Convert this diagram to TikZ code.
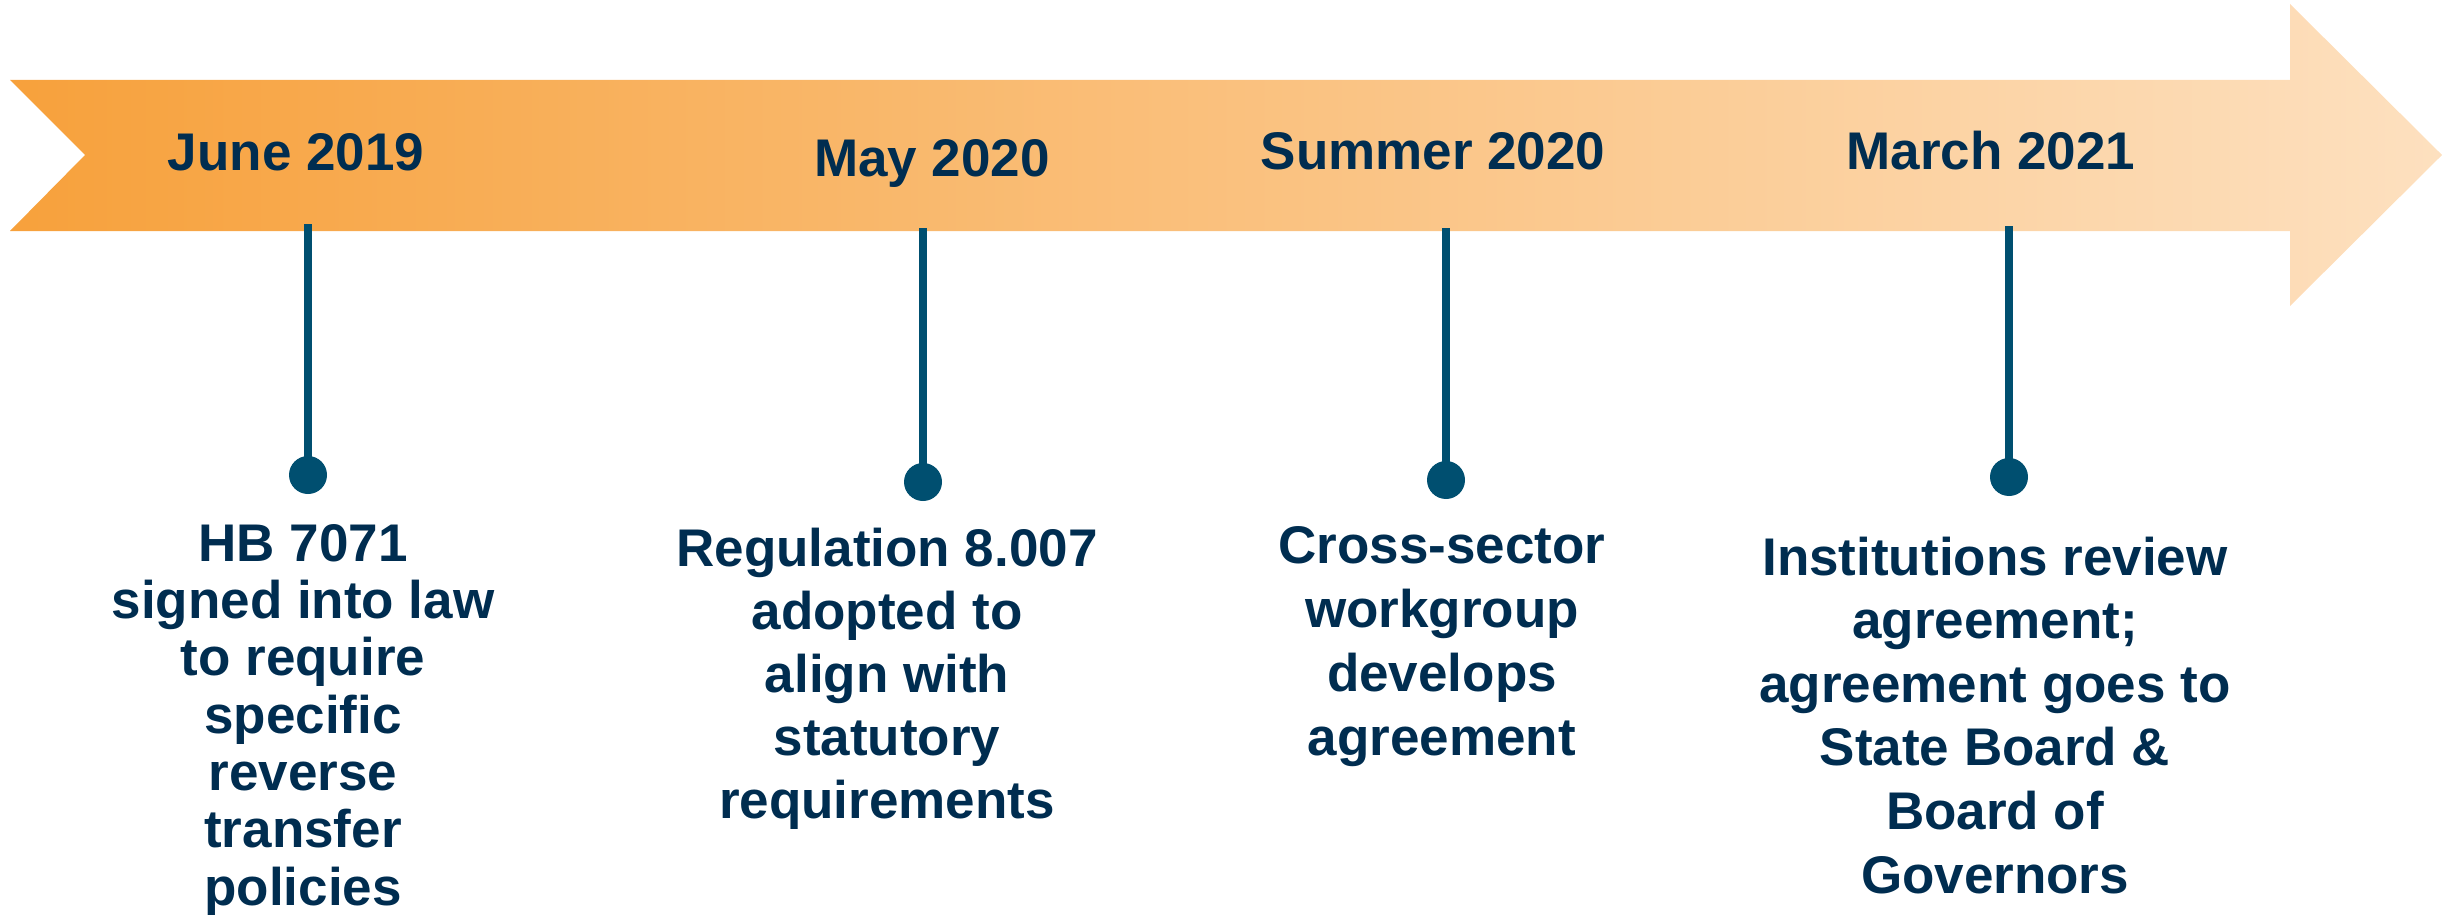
\documentclass[tikz,border=0pt]{standalone}
\usepackage{fontspec}
\setmainfont{Liberation Sans}
\definecolor{navytext}{RGB}{0,45,80}
\definecolor{stemblue}{RGB}{0,79,112}
\definecolor{arrowleft}{RGB}{247,161,60}
\definecolor{arrowright}{RGB}{253,224,191}
\tikzset{
  datelbl/.style={anchor=base, inner sep=0pt, text=navytext, font=\bfseries\fontsize{53}{57}\selectfont},
  bodylbl/.style={anchor=base, inner sep=0pt, text=navytext, align=center},
  stemdot/.style={circle, fill=stemblue, inner sep=0pt, minimum size=38pt},
  stemline/.style={draw=stemblue, line width=8.3pt}
}
\begin{document}
\begin{tikzpicture}[x=1pt,y=-1pt]
\useasboundingbox (0,0) rectangle (2453,915);
% timeline arrow
\shade[left color=arrowleft, right color=arrowright]
  (10,80) -- (2290,80) -- (2290,4) -- (2442,155) -- (2290,306) -- (2290,231) -- (10,231) -- (85,155) -- cycle;
% dates
\node[datelbl] (d1) at (296,171) {June 2019};
\node[datelbl] (d2) at (932,177) {May 2020};
\node[datelbl] (d3) at (1433,170) {Summer 2020};
\node[datelbl] (d4) at (1991,169) {March 2021};
% stems
\coordinate (s1) at (308,224);
\coordinate (s2) at (923,228);
\coordinate (s3) at (1446,228);
\coordinate (s4) at (2009,226);
\node[stemdot] (p1) at (308,475) {};
\node[stemdot] (p2) at (923,482) {};
\node[stemdot] (p3) at (1446,480) {};
\node[stemdot] (p4) at (2009,477) {};
\draw[stemline] (s1) -- (p1.center);
\draw[stemline] (s2) -- (p2.center);
\draw[stemline] (s3) -- (p3.center);
\draw[stemline] (s4) -- (p4.center);
% descriptions (anchored at the baseline of the last line)
\node[bodylbl, font=\bfseries\fontsize{53}{57.3}\selectfont] (t1) at (303,905)
  {HB 7071\\signed into law\\to require\\specific\\reverse\\transfer\\policies};
\node[bodylbl, font=\bfseries\fontsize{53}{63}\selectfont] (t2) at (887,818)
  {Regulation 8.007\\adopted to\\align with\\statutory\\requirements};
\node[bodylbl, font=\bfseries\fontsize{53}{64}\selectfont] (t3) at (1442,755)
  {Cross-sector\\workgroup\\develops\\agreement};
\node[bodylbl, font=\bfseries\fontsize{53}{63.6}\selectfont] (t4) at (1995,893)
  {Institutions review\\agreement;\\agreement goes to\\State Board \&\\Board of\\Governors};
\end{tikzpicture}
\end{document}
